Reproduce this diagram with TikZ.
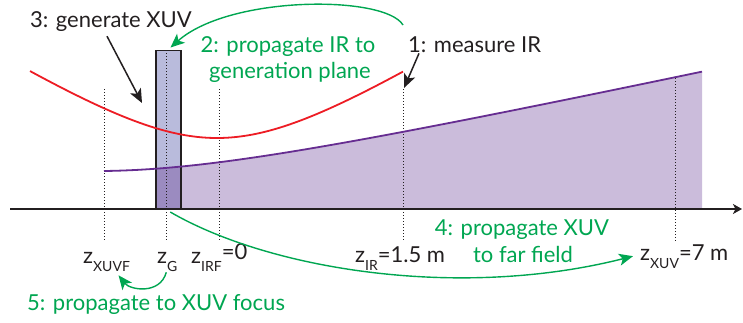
\documentclass[tikz,border=0pt]{standalone}
\usepackage{fontspec}
\setmainfont{Lato}
\usetikzlibrary{arrows.meta}
\definecolor{ink}{HTML}{231F20}
\definecolor{grn}{HTML}{00A651}
\definecolor{rd}{HTML}{ED1C24}
\definecolor{purp}{HTML}{662D91}
\definecolor{purpfill}{HTML}{CBBCDB}
\definecolor{rectfill}{HTML}{B9BBDC}
\definecolor{overlapfill}{HTML}{9B8BC0}
\newcommand\zsub[1]{\raisebox{-8pt}{\fontsize{14}{14}\selectfont #1}}
\begin{document}
\begin{tikzpicture}[x=1pt,y=-1pt,font=\fontsize{22}{26}\selectfont,
  lbl/.style={inner sep=0pt,text=ink},
  glbl/.style={inner sep=0pt,text=grn},
  garrow/.style={draw=grn,line width=1.4pt,-{Stealth[length=14pt,width=12pt,inset=3.5pt]}},
  barrow/.style={draw=ink,line width=1.5pt,-{Stealth[length=14pt,width=12pt,inset=3.5pt]}},
  vdot/.style={draw=ink,line width=0.8pt,dash pattern=on 1pt off 2pt},
  beam/.style={line width=1.8pt}]
\useasboundingbox (0,0) rectangle (743,322);
% purple XUV region
\fill[purpfill] (155,209) -- plot[domain=155:702,samples=70] (\x,{209-10*sqrt(14.38+4.7*((\x-93)/100)^2)}) -- (702,209) -- cycle;
% generation plane box
\fill[rectfill] (155,51) rectangle (180,209);
\begin{scope}
  \clip (155,51) rectangle (180,209);
  \fill[overlapfill] (150,209) -- plot[domain=150:185,samples=10] (\x,{209-10*sqrt(14.38+4.7*((\x-93)/100)^2)}) -- (185,209) -- cycle;
\end{scope}
\node[draw=ink,line width=1.5pt,minimum width=25pt,minimum height=158pt,inner sep=0pt,anchor=south west] (gen) at (155,209) {};
% dotted guides
\coordinate (d1t) at (104,89);  \coordinate (d1b) at (104,240);
\coordinate (d2t) at (166,53);  \coordinate (d2b) at (166,240);
\coordinate (d3t) at (219,89);  \coordinate (d3b) at (219,240);
\coordinate (d4t) at (403,89);  \coordinate (d4b) at (403,240);
\coordinate (d5t) at (675,78);  \coordinate (d5b) at (675,241);
\foreach \a/\b in {d1t/d1b,d2t/d2b,d3t/d3b,d4t/d4b,d5t/d5b} \draw[vdot] (\a) -- (\b);
% beams
\draw[purp,beam] plot[domain=104:702,samples=90] (\x,{209-10*sqrt(14.38+4.7*((\x-93)/100)^2)});
\draw[rd,beam] plot[domain=30:403,samples=90] (\x,{209-10*sqrt(50.41+40*((\x-217)/100)^2)});
% axis
\coordinate (ax0) at (10,209);
\coordinate (ax1) at (742,209);
\draw[ink,line width=1.3pt,-{Stealth[length=9pt,width=10pt,inset=2.5pt]}] (ax0) -- (ax1);
% texts
\node[lbl,anchor=base west] (l3) at (30,27) {3: generate XUV};
\node[lbl,anchor=base west] (l1) at (408,52) {1: measure IR};
\node[glbl,anchor=base] (l2a) at (288,52) {2: propagate IR to};
\node[glbl,anchor=base] (l2b) at (290,78) {generation plane};
\node[glbl,anchor=base] (l4a) at (522,235) {4: propagate XUV};
\node[glbl,anchor=base] (l4b) at (523,262) {to far field};
\node[glbl,anchor=base west] (l5) at (27,310) {5: propagate to XUV focus};
\node[lbl,anchor=base west] (zxuvf) at (83,263) {z\zsub{XUVF}};
\node[lbl,anchor=base west] (zg) at (157,263) {z\zsub{G}};
\node[lbl,anchor=base west] (zirf) at (191,263) {z\zsub{IRF}\raisebox{4pt}{=0}};
\node[lbl,anchor=base west] (zir) at (355,262) {z\zsub{IR}=1.5 m};
\node[lbl,anchor=base west] (zxuv) at (640,260) {z\zsub{XUV}=7 m};
% black arrows
\coordinate (b3e) at (142,103);
\coordinate (b1e) at (404,88);
\draw[barrow] ([xshift=-4pt,yshift=-5pt]l3.south) -- (b3e);
\draw[barrow] ([xshift=11pt,yshift=-1pt]l1.south west) -- (b1e);
% green arrows
\coordinate (a2s) at (403,25);
\draw[garrow,shorten >=3pt] (a2s) .. controls (385,-5) and (230,-5) .. (gen.north);
\draw[garrow] ([xshift=2pt,yshift=-3pt]gen.south) .. controls (270,270) and (460,300) .. ([xshift=-7pt]zxuv.west);
\draw[garrow] ([xshift=-1pt,yshift=-1pt]zg.south) .. controls (160,295) and (130,290) .. ([xshift=12pt,yshift=-4pt]zxuvf.south);
\end{tikzpicture}
\end{document}
